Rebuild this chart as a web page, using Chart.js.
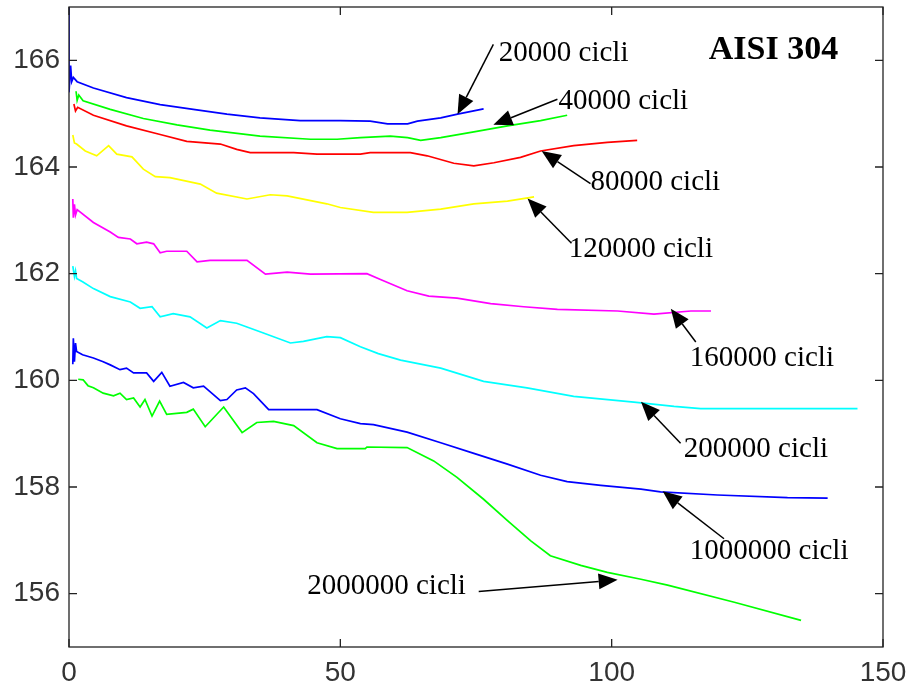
<!DOCTYPE html>
<html>
<head>
<meta charset="utf-8">
<script src="https://cdn.jsdelivr.net/npm/chart.js@4.4.1/dist/chart.umd.min.js"></script>
<style>
  body { margin: 0; background: #fff; }
  #wrap { width: 912px; height: 689px; }
</style>
</head>
<body>
<div id="wrap"><canvas id="hardChart" width="912" height="689"></canvas></div>
<script>
// curves, [x, y]
const cicli20000 = [[0,167],[0,165.4],[0.3,165.9],[0.5,165.6],[0.8,165.68],[1.5,165.6],[4.5,165.48],[10.6,165.3],[16.8,165.17],[22.9,165.08],[29.1,164.99],[35.2,164.92],[42.6,164.87],[50,164.87],[55.5,164.86],[58.7,164.81],[62.4,164.81],[64.2,164.86],[68.5,164.92],[71.6,164.99],[76.4,165.09]];
const cicli40000 = [[1.3,165.42],[1.5,165.25],[1.8,165.35],[2.6,165.24],[7.6,165.08],[13.7,164.91],[19.9,164.79],[26,164.69],[35.2,164.58],[44.5,164.52],[49.4,164.52],[53.7,164.55],[59.2,164.58],[62.4,164.55],[64.8,164.5],[68.5,164.55],[74.6,164.66],[80.8,164.77],[86.9,164.87],[91.8,164.97]];
const cicli80000 = [[0.9,165.18],[1.2,165.05],[1.6,165.12],[4.5,164.97],[10.6,164.77],[16.8,164.61],[21.7,164.48],[27.9,164.43],[30.9,164.33],[33.4,164.27],[41.4,164.27],[45.7,164.24],[53.7,164.24],[55.5,164.27],[62.9,164.27],[66,164.21],[70.9,164.07],[74.6,164.02],[78.3,164.08],[83.2,164.18],[86.9,164.3],[93,164.4],[99.2,164.46],[104.7,164.5]];
const cicli120000 = [[0.7,164.6],[1,164.45],[1.4,164.43],[3,164.3],[5.1,164.21],[7.3,164.4],[8.8,164.24],[11.6,164.19],[13.7,163.96],[15.9,163.82],[18.6,163.8],[24.2,163.68],[27.2,163.51],[32.8,163.4],[37.1,163.48],[40.2,163.46],[47.5,163.31],[50,163.24],[56.1,163.15],[62.3,163.15],[68.5,163.21],[74.6,163.31],[80.8,163.36],[85.7,163.44]];
const cicli160000 = [[0.7,163.4],[0.8,163.05],[1,163.3],[1.2,163.1],[1.5,163.2],[4.5,162.96],[7.6,162.78],[9.1,162.68],[11.3,162.65],[12.5,162.56],[14.3,162.59],[15.6,162.56],[16.8,162.39],[18,162.42],[21.7,162.42],[23.6,162.22],[26,162.25],[32.8,162.25],[36.2,161.99],[40.2,162.03],[44.5,161.99],[54.9,162],[57.4,161.89],[62.3,161.68],[66.3,161.58],[71.5,161.54],[77.7,161.44],[83.8,161.38],[90,161.33],[101.1,161.3],[107.8,161.24],[114.6,161.3],[118.3,161.3]];
const cicli200000 = [[0.7,162.14],[1,161.95],[1.2,162.05],[1.4,161.91],[2.5,161.85],[4.5,161.72],[7.6,161.57],[11.3,161.47],[13.1,161.35],[15.3,161.38],[16.8,161.19],[19.2,161.25],[22.3,161.19],[25.4,160.98],[27.9,161.12],[30.9,161.07],[35.2,160.91],[40.8,160.7],[43.2,160.73],[47.5,160.82],[50,160.8],[53.7,160.63],[57,160.5],[61.1,160.38],[68.5,160.23],[76.4,159.98],[84.4,159.86],[93,159.7],[104.1,159.59],[111.5,159.51],[116.4,159.47],[145.3,159.47]];
const cicli1000000 = [[0.7,160.3],[0.8,160.79],[1,160.35],[1.2,160.7],[1.4,160.54],[2.5,160.48],[4.5,160.42],[6.3,160.35],[7.6,160.29],[9.4,160.2],[10.6,160.23],[11.9,160.14],[14.3,160.14],[15.6,159.98],[17.1,160.15],[18.6,159.89],[21.1,159.96],[22.9,159.86],[24.8,159.89],[27.9,159.62],[29.1,159.64],[30.9,159.82],[32.5,159.86],[34,159.75],[36.8,159.45],[45.7,159.45],[50,159.28],[53.7,159.19],[56.1,159.17],[62.3,159.03],[68.5,158.83],[74.6,158.63],[80.8,158.43],[86.9,158.22],[91.8,158.1],[98,158.03],[105.4,157.96],[109,157.91],[119.5,157.85],[132.4,157.8],[139.8,157.79]];
const cicli2000000 = [[1.7,160.02],[2.6,160.01],[3.5,159.9],[4.5,159.86],[6.3,159.76],[8.2,159.71],[9.4,159.76],[10.6,159.64],[11.9,159.67],[13.1,159.5],[14,159.64],[15.3,159.33],[16.7,159.61],[18,159.36],[21.7,159.4],[22.9,159.46],[25.1,159.13],[28.5,159.5],[31.9,159.02],[34.6,159.21],[37.7,159.23],[41.4,159.15],[45.7,158.83],[49.4,158.72],[54.6,158.72],[54.9,158.75],[62.3,158.74],[67.2,158.49],[71.5,158.18],[76.4,157.77],[80.8,157.37],[85.1,156.99],[88.7,156.71],[94.3,156.53],[99.2,156.4],[105.4,156.27],[110.3,156.16],[122.6,155.84],[134.9,155.5]];

const seriesData = [cicli20000, cicli40000, cicli80000, cicli120000, cicli160000, cicli200000, cicli1000000, cicli2000000];
const seriesColors = ['#0000ff', '#00ff00', '#ff0000', '#ffff00', '#ff00ff', '#00ffff', '#0000ff', '#00ff00'];

const xTicks = [0, 50, 100, 150];
const yTicks = [156, 158, 160, 162, 164, 166];

// labels: text, text pos, arrow tail, arrow tip (data units)
const labelTexts = ['20000 cicli', '40000 cicli', '80000 cicli', '120000 cicli', '160000 cicli', '200000 cicli', '1000000 cicli', '2000000 cicli'];
const labelPos = [[79.2,165.98],[90.2,165.09],[96.1,163.56],[92.1,162.31],[114.4,160.27],[113.3,158.57],[114.4,156.65],[43.9,156.0]];
const arrowTail = [[78.2,166.3],[90.0,165.27],[96.1,163.69],[92.6,162.57],[115.5,160.72],[112.7,158.82],[120.7,157.03],[75.5,156.04]];
const arrowTip = [[71.6,164.99],[78.2,164.79],[87.1,164.3],[84.5,163.41],[110.9,161.34],[105.4,159.6],[109.4,157.92],[101.1,156.26]];
const titleText = 'AISI 304';
const titlePos = [117.9, 166.02];

const frame = {
  id: 'frame',
  afterDraw(chart) {
    const ctx = chart.ctx;
    const a = chart.chartArea;
    const xs = chart.scales.x, ys = chart.scales.y;
    ctx.save();
    ctx.strokeStyle = '#222';
    ctx.lineWidth = 1.3;
    ctx.strokeRect(a.left, a.top, a.right - a.left, a.bottom - a.top);
    ctx.beginPath();
    yTicks.forEach(v => {
      const y = ys.getPixelForValue(v);
      ctx.moveTo(a.left, y); ctx.lineTo(a.left + 8, y);
      ctx.moveTo(a.right, y); ctx.lineTo(a.right - 8, y);
    });
    xTicks.forEach(v => {
      const x = xs.getPixelForValue(v);
      ctx.moveTo(x, a.bottom); ctx.lineTo(x, a.bottom - 8);
      ctx.moveTo(x, a.top); ctx.lineTo(x, a.top + 8);
    });
    ctx.stroke();

    // arrows
    ctx.strokeStyle = '#000';
    ctx.fillStyle = '#000';
    ctx.lineWidth = 1.5;
    for (let i = 0; i < arrowTail.length; i++) {
      const x0 = xs.getPixelForValue(arrowTail[i][0]), y0 = ys.getPixelForValue(arrowTail[i][1]);
      const x1 = xs.getPixelForValue(arrowTip[i][0]), y1 = ys.getPixelForValue(arrowTip[i][1]);
      const ang = Math.atan2(y1 - y0, x1 - x0);
      const len = 19, hw = 8;
      const bx = x1 - len * Math.cos(ang), by = y1 - len * Math.sin(ang);
      ctx.beginPath();
      ctx.moveTo(x0, y0); ctx.lineTo(bx, by);
      ctx.stroke();
      ctx.beginPath();
      ctx.moveTo(x1, y1);
      ctx.lineTo(bx + hw * Math.sin(ang), by - hw * Math.cos(ang));
      ctx.lineTo(bx - hw * Math.sin(ang), by + hw * Math.cos(ang));
      ctx.closePath();
      ctx.fill();
    }

    ctx.textBaseline = 'alphabetic';
    ctx.textAlign = 'left';
    ctx.font = '29px "Liberation Serif", "Times New Roman", serif';
    labelTexts.forEach((t, i) => {
      ctx.fillText(t, xs.getPixelForValue(labelPos[i][0]), ys.getPixelForValue(labelPos[i][1]));
    });
    ctx.font = 'bold 34px "Liberation Serif", "Times New Roman", serif';
    ctx.fillText(titleText, xs.getPixelForValue(titlePos[0]), ys.getPixelForValue(titlePos[1]));
    ctx.restore();
  }
};

const ctx = document.getElementById('hardChart');

new Chart(ctx, {
  type: 'line',
  data: {
    datasets: seriesData.map((d, i) => ({
      data: d.map(p => ({ x: p[0], y: p[1] })),
      borderColor: seriesColors[i],
      borderWidth: 1.7,
      pointRadius: 0,
      tension: 0,
      fill: false
    }))
  },
  options: {
    responsive: false,
    animation: false,
    layout: { padding: { top: 7, right: 29, left: 0, bottom: 0 } },
    plugins: { legend: { display: false }, tooltip: { enabled: false } },
    scales: {
      x: {
        type: 'linear',
        min: 0,
        max: 150,
        afterBuildTicks: s => { s.ticks = xTicks.map(v => ({ value: v })); },
        afterFit: s => { s.height = 42; s.paddingLeft = 0; s.paddingRight = 0; },
        grid: { display: false, drawTicks: false },
        border: { display: false },
        ticks: { padding: 9, color: '#333', font: { family: '"Liberation Sans", Arial, sans-serif', size: 28 } }
      },
      y: {
        type: 'linear',
        min: 155,
        max: 167,
        afterBuildTicks: s => { s.ticks = yTicks.map(v => ({ value: v })); },
        afterFit: s => { s.width = 69; s.paddingTop = 0; s.paddingBottom = 0; },
        grid: { display: false, drawTicks: false },
        border: { display: false },
        ticks: { padding: 9, color: '#333', font: { family: '"Liberation Sans", Arial, sans-serif', size: 28 } }
      }
    }
  },
  plugins: [frame]
});
</script>
</body>
</html>
